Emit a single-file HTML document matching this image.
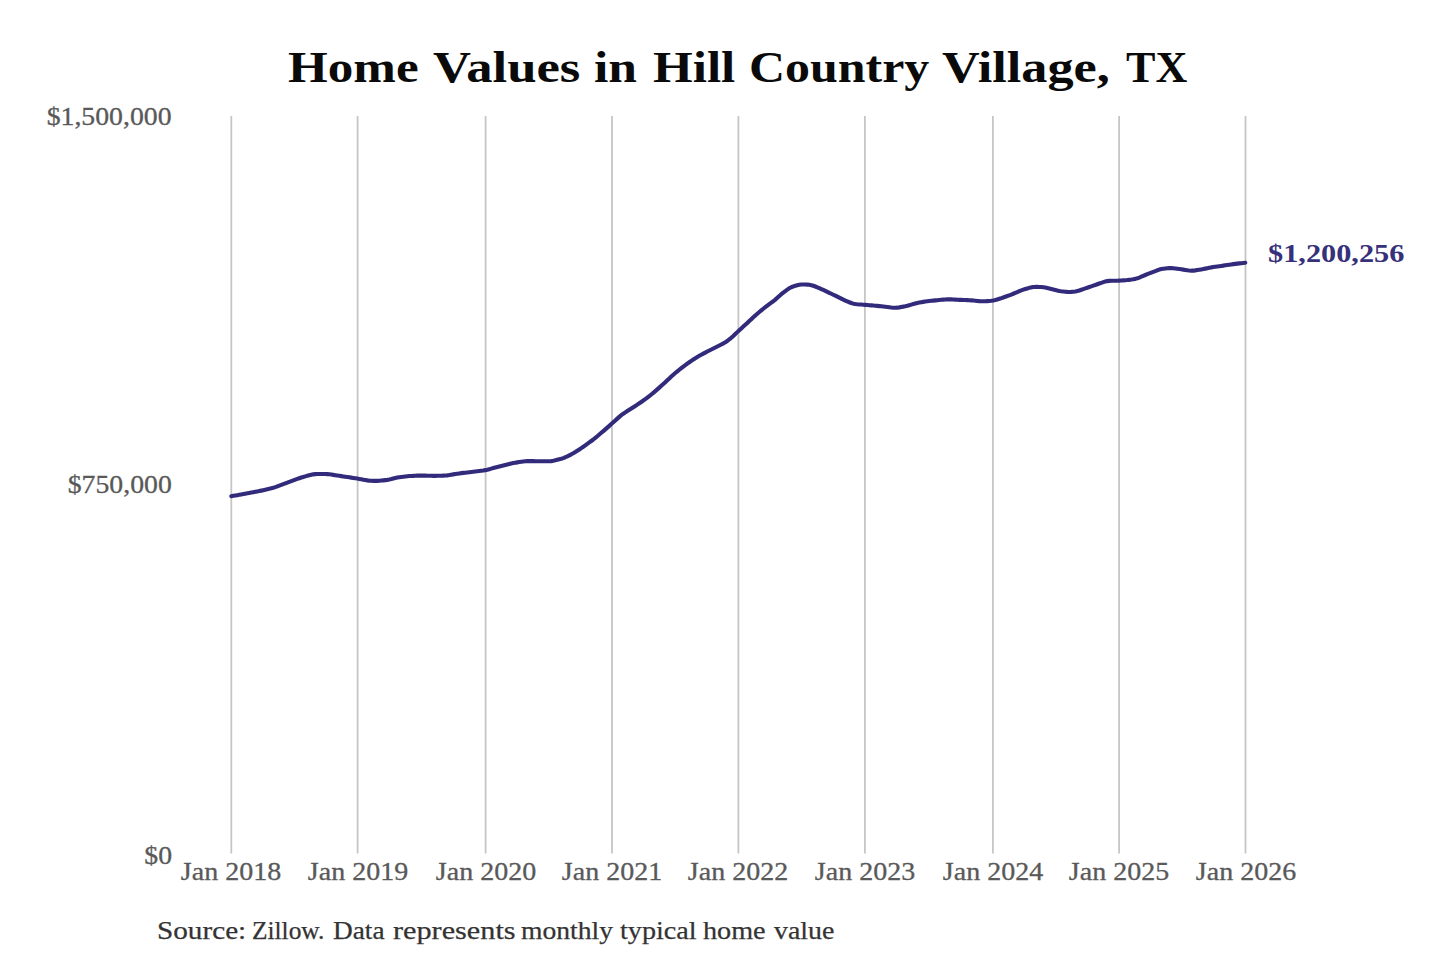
<!DOCTYPE html>
<html><head><meta charset="utf-8"><style>
html,body{margin:0;padding:0;background:#fff;}
body{width:1440px;height:960px;position:relative;overflow:hidden;font-family:"Liberation Serif",serif;}
svg{position:absolute;left:0;top:0;}
span,.t{position:absolute;white-space:nowrap;line-height:1;transform-origin:0 0;}
.tw{font-weight:700;font-size:43.4px;color:#0a0a0a;}
.sw{font-size:26px;color:#333;-webkit-text-stroke:0.25px #333;}
.yl{position:absolute;right:1268.3px;font-size:25px;color:#595959;-webkit-text-stroke:0.3px #595959;line-height:1;white-space:nowrap;transform:scaleX(1.11);transform-origin:right center;}
.xl{position:absolute;width:120px;text-align:center;top:0;font-size:25.8px;color:#595959;-webkit-text-stroke:0.3px #595959;line-height:1;white-space:nowrap;transform:scaleX(1.085);}
#val{left:1268px;font-size:25.7px;font-weight:700;color:#37307a;transform:scaleX(1.18);transform-origin:left center;}
</style></head><body>
<svg width="1440" height="960" viewBox="0 0 1440 960">
<g stroke="#c6c6c6" stroke-width="1.8" fill="none"><line x1="231.3" y1="116" x2="231.3" y2="853.5"/><line x1="357.6" y1="116" x2="357.6" y2="853.5"/><line x1="485.6" y1="116" x2="485.6" y2="853.5"/><line x1="612.0" y1="116" x2="612.0" y2="853.5"/><line x1="738.4" y1="116" x2="738.4" y2="853.5"/><line x1="864.9" y1="116" x2="864.9" y2="853.5"/><line x1="992.9" y1="116" x2="992.9" y2="853.5"/><line x1="1119.1" y1="116" x2="1119.1" y2="853.5"/><line x1="1245.5" y1="116" x2="1245.5" y2="853.5"/></g>
<path d="M231.3 496.20 L233.3 495.85 L235.3 495.50 L237.3 495.15 L239.3 494.79 L241.3 494.43 L243.3 494.07 L245.3 493.70 L247.3 493.33 L249.3 492.95 L251.3 492.58 L253.3 492.19 L255.3 491.81 L257.3 491.42 L259.3 491.02 L261.3 490.62 L263.3 490.20 L265.3 489.75 L267.3 489.28 L269.3 488.81 L271.3 488.31 L273.3 487.75 L275.3 487.11 L277.3 486.41 L279.3 485.67 L281.3 484.92 L283.3 484.17 L285.3 483.42 L287.3 482.67 L289.3 481.93 L291.3 481.18 L293.3 480.43 L295.3 479.68 L297.3 478.94 L299.3 478.21 L301.3 477.53 L303.3 476.92 L305.3 476.35 L307.3 475.80 L309.3 475.26 L311.3 474.76 L313.3 474.35 L315.3 474.11 L317.3 474.00 L319.3 473.96 L321.3 473.95 L323.3 473.94 L325.3 473.98 L327.3 474.09 L329.3 474.30 L331.3 474.58 L333.3 474.88 L335.3 475.18 L337.3 475.49 L339.3 475.79 L341.3 476.10 L343.3 476.41 L345.3 476.72 L347.3 477.02 L349.3 477.33 L351.3 477.64 L353.3 477.95 L355.3 478.27 L357.3 478.60 L359.3 478.95 L361.3 479.32 L363.3 479.70 L365.3 480.06 L367.3 480.38 L369.3 480.62 L371.3 480.76 L373.3 480.85 L375.3 480.89 L377.3 480.87 L379.3 480.76 L381.3 480.58 L383.3 480.37 L385.3 480.14 L387.3 479.88 L389.3 479.53 L391.3 479.07 L393.3 478.54 L395.3 478.02 L397.3 477.58 L399.3 477.23 L401.3 476.95 L403.3 476.68 L405.3 476.44 L407.3 476.24 L409.3 476.08 L411.3 475.96 L413.3 475.86 L415.3 475.75 L417.3 475.66 L419.3 475.59 L421.3 475.58 L423.3 475.60 L425.3 475.65 L427.3 475.71 L429.3 475.77 L431.3 475.82 L433.3 475.84 L435.3 475.84 L437.3 475.81 L439.3 475.77 L441.3 475.72 L443.3 475.65 L445.3 475.54 L447.3 475.35 L449.3 475.06 L451.3 474.72 L453.3 474.37 L455.3 474.03 L457.3 473.70 L459.3 473.41 L461.3 473.15 L463.3 472.91 L465.3 472.68 L467.3 472.45 L469.3 472.22 L471.3 471.99 L473.3 471.75 L475.3 471.51 L477.3 471.27 L479.3 471.03 L481.3 470.78 L483.3 470.50 L485.3 470.14 L487.3 469.69 L489.3 469.17 L491.3 468.62 L493.3 468.07 L495.3 467.52 L497.3 466.98 L499.3 466.45 L501.3 465.93 L503.3 465.41 L505.3 464.90 L507.3 464.39 L509.3 463.91 L511.3 463.48 L513.3 463.10 L515.3 462.74 L517.3 462.39 L519.3 462.05 L521.3 461.72 L523.3 461.42 L525.3 461.20 L527.3 461.10 L529.3 461.10 L531.3 461.13 L533.3 461.17 L535.3 461.21 L537.3 461.25 L539.3 461.28 L541.3 461.29 L543.3 461.30 L545.3 461.30 L547.3 461.29 L549.3 461.25 L551.3 461.10 L553.3 460.80 L555.3 460.36 L557.3 459.85 L559.3 459.32 L561.3 458.75 L563.3 458.08 L565.3 457.26 L567.3 456.33 L569.3 455.34 L571.3 454.32 L573.3 453.23 L575.3 452.04 L577.3 450.76 L579.3 449.43 L581.3 448.08 L583.3 446.71 L585.3 445.32 L587.3 443.89 L589.3 442.45 L591.3 440.99 L593.3 439.50 L595.3 437.93 L597.3 436.28 L599.3 434.56 L601.3 432.82 L603.3 431.08 L605.3 429.34 L607.3 427.59 L609.3 425.84 L611.3 424.07 L613.3 422.27 L615.3 420.45 L617.3 418.64 L619.3 416.86 L621.3 415.20 L623.3 413.70 L625.3 412.35 L627.3 411.06 L629.3 409.80 L631.3 408.53 L633.3 407.24 L635.3 405.94 L637.3 404.61 L639.3 403.27 L641.3 401.93 L643.3 400.57 L645.3 399.17 L647.3 397.69 L649.3 396.11 L651.3 394.48 L653.3 392.81 L655.3 391.13 L657.3 389.40 L659.3 387.64 L661.3 385.84 L663.3 384.02 L665.3 382.17 L667.3 380.30 L669.3 378.41 L671.3 376.55 L673.3 374.74 L675.3 373.03 L677.3 371.38 L679.3 369.76 L681.3 368.16 L683.3 366.59 L685.3 365.08 L687.3 363.63 L689.3 362.21 L691.3 360.82 L693.3 359.45 L695.3 358.17 L697.3 356.97 L699.3 355.84 L701.3 354.73 L703.3 353.64 L705.3 352.57 L707.3 351.52 L709.3 350.51 L711.3 349.50 L713.3 348.50 L715.3 347.50 L717.3 346.49 L719.3 345.49 L721.3 344.47 L723.3 343.42 L725.3 342.28 L727.3 340.95 L729.3 339.43 L731.3 337.75 L733.3 335.96 L735.3 334.07 L737.3 332.14 L739.3 330.24 L741.3 328.39 L743.3 326.59 L745.3 324.77 L747.3 322.91 L749.3 321.03 L751.3 319.14 L753.3 317.29 L755.3 315.50 L757.3 313.76 L759.3 312.05 L761.3 310.39 L763.3 308.77 L765.3 307.19 L767.3 305.65 L769.3 304.16 L771.3 302.71 L773.3 301.23 L775.3 299.60 L777.3 297.81 L779.3 295.96 L781.3 294.20 L783.3 292.60 L785.3 291.08 L787.3 289.63 L789.3 288.31 L791.3 287.23 L793.3 286.43 L795.3 285.82 L797.3 285.29 L799.3 284.83 L801.3 284.53 L803.3 284.43 L805.3 284.49 L807.3 284.62 L809.3 284.82 L811.3 285.17 L813.3 285.74 L815.3 286.49 L817.3 287.33 L819.3 288.20 L821.3 289.08 L823.3 289.99 L825.3 290.91 L827.3 291.85 L829.3 292.80 L831.3 293.75 L833.3 294.72 L835.3 295.70 L837.3 296.70 L839.3 297.69 L841.3 298.67 L843.3 299.62 L845.3 300.52 L847.3 301.40 L849.3 302.25 L851.3 303.03 L853.3 303.64 L855.3 304.04 L857.3 304.27 L859.3 304.43 L861.3 304.58 L863.3 304.73 L865.3 304.88 L867.3 305.04 L869.3 305.21 L871.3 305.37 L873.3 305.54 L875.3 305.71 L877.3 305.88 L879.3 306.09 L881.3 306.31 L883.3 306.55 L885.3 306.80 L887.3 307.06 L889.3 307.31 L891.3 307.55 L893.3 307.73 L895.3 307.79 L897.3 307.66 L899.3 307.38 L901.3 307.02 L903.3 306.63 L905.3 306.22 L907.3 305.74 L909.3 305.20 L911.3 304.63 L913.3 304.04 L915.3 303.48 L917.3 302.99 L919.3 302.58 L921.3 302.22 L923.3 301.89 L925.3 301.57 L927.3 301.28 L929.3 301.03 L931.3 300.80 L933.3 300.59 L935.3 300.38 L937.3 300.18 L939.3 299.99 L941.3 299.81 L943.3 299.64 L945.3 299.48 L947.3 299.37 L949.3 299.34 L951.3 299.40 L953.3 299.50 L955.3 299.62 L957.3 299.73 L959.3 299.84 L961.3 299.92 L963.3 299.99 L965.3 300.05 L967.3 300.12 L969.3 300.22 L971.3 300.36 L973.3 300.55 L975.3 300.77 L977.3 300.98 L979.3 301.16 L981.3 301.26 L983.3 301.26 L985.3 301.20 L987.3 301.12 L989.3 301.01 L991.3 300.83 L993.3 300.50 L995.3 300.02 L997.3 299.44 L999.3 298.82 L1001.3 298.18 L1003.3 297.49 L1005.3 296.78 L1007.3 296.05 L1009.3 295.31 L1011.3 294.55 L1013.3 293.75 L1015.3 292.91 L1017.3 292.05 L1019.3 291.20 L1021.3 290.39 L1023.3 289.66 L1025.3 289.02 L1027.3 288.42 L1029.3 287.86 L1031.3 287.38 L1033.3 287.06 L1035.3 286.92 L1037.3 286.90 L1039.3 286.94 L1041.3 287.03 L1043.3 287.23 L1045.3 287.57 L1047.3 288.01 L1049.3 288.50 L1051.3 289.00 L1053.3 289.51 L1055.3 290.01 L1057.3 290.49 L1059.3 290.92 L1061.3 291.26 L1063.3 291.51 L1065.3 291.72 L1067.3 291.87 L1069.3 291.95 L1071.3 291.92 L1073.3 291.79 L1075.3 291.53 L1077.3 291.07 L1079.3 290.46 L1081.3 289.76 L1083.3 289.06 L1085.3 288.37 L1087.3 287.69 L1089.3 287.01 L1091.3 286.33 L1093.3 285.65 L1095.3 284.96 L1097.3 284.25 L1099.3 283.55 L1101.3 282.85 L1103.3 282.16 L1105.3 281.55 L1107.3 281.11 L1109.3 280.87 L1111.3 280.78 L1113.3 280.75 L1115.3 280.73 L1117.3 280.69 L1119.3 280.63 L1121.3 280.53 L1123.3 280.40 L1125.3 280.26 L1127.3 280.08 L1129.3 279.85 L1131.3 279.58 L1133.3 279.26 L1135.3 278.87 L1137.3 278.32 L1139.3 277.58 L1141.3 276.73 L1143.3 275.84 L1145.3 274.99 L1147.3 274.20 L1149.3 273.43 L1151.3 272.66 L1153.3 271.86 L1155.3 271.06 L1157.3 270.29 L1159.3 269.60 L1161.3 269.07 L1163.3 268.71 L1165.3 268.44 L1167.3 268.23 L1169.3 268.08 L1171.3 268.07 L1173.3 268.21 L1175.3 268.45 L1177.3 268.73 L1179.3 269.02 L1181.3 269.32 L1183.3 269.63 L1185.3 269.95 L1187.3 270.27 L1189.3 270.53 L1191.3 270.67 L1193.3 270.61 L1195.3 270.38 L1197.3 270.08 L1199.3 269.75 L1201.3 269.40 L1203.3 269.02 L1205.3 268.62 L1207.3 268.20 L1209.3 267.79 L1211.3 267.39 L1213.3 267.04 L1215.3 266.74 L1217.3 266.46 L1219.3 266.18 L1221.3 265.91 L1223.3 265.62 L1225.3 265.33 L1227.3 265.02 L1229.3 264.72 L1231.3 264.42 L1233.3 264.14 L1235.3 263.88 L1237.3 263.64 L1239.3 263.40 L1241.3 263.17 L1243.3 262.93 L1245.3 262.70" fill="none" stroke="#322a7a" stroke-width="4.1" stroke-linecap="round" stroke-linejoin="round"/>
</svg>
<span class="tw" style="left:288.22px;top:46px;transform:scaleX(1.1780)">Home</span><span class="tw" style="left:432.69px;top:46px;transform:scaleX(1.2134)">Values</span><span class="tw" style="left:594.41px;top:46px;transform:scaleX(1.1886)">in</span><span class="tw" style="left:653.22px;top:46px;transform:scaleX(1.1765)">Hill</span><span class="tw" style="left:749.40px;top:46px;transform:scaleX(1.1506)">Country</span><span class="tw" style="left:941.60px;top:46px;transform:scaleX(1.2044)">Village,</span><span class="tw" style="left:1125.68px;top:46px;transform:scaleX(1.0169)">TX</span>
<div class="yl" style="top:103.7px">$1,500,000</div>
<div class="yl" style="top:471.6px">$750,000</div>
<div class="yl" style="top:842.6px">$0</div>
<div style="position:absolute;left:0;top:858.9px;"><div class="xl" style="left:171.3px">Jan 2018</div><div class="xl" style="left:297.6px">Jan 2019</div><div class="xl" style="left:425.6px">Jan 2020</div><div class="xl" style="left:552.0px">Jan 2021</div><div class="xl" style="left:678.4px">Jan 2022</div><div class="xl" style="left:804.9px">Jan 2023</div><div class="xl" style="left:932.9px">Jan 2024</div><div class="xl" style="left:1059.1px">Jan 2025</div><div class="xl" style="left:1185.5px">Jan 2026</div></div>
<span class="sw" style="left:157.25px;top:917.5px;transform:scaleX(1.1233)">Source:</span><span class="sw" style="left:252.32px;top:917.5px;transform:scaleX(0.9764)">Zillow.</span><span class="sw" style="left:332.95px;top:917.5px;transform:scaleX(1.0500)">Data</span><span class="sw" style="left:392.74px;top:917.5px;transform:scaleX(1.1631)">represents</span><span class="sw" style="left:521.34px;top:917.5px;transform:scaleX(1.0612)">monthly</span><span class="sw" style="left:619.72px;top:917.5px;transform:scaleX(1.0826)">typical</span><span class="sw" style="left:703.12px;top:917.5px;transform:scaleX(1.0839)">home</span><span class="sw" style="left:773.60px;top:917.5px;transform:scaleX(1.0727)">value</span>
<div class="t" id="val" style="top:241px">$1,200,256</div>
</body></html>
